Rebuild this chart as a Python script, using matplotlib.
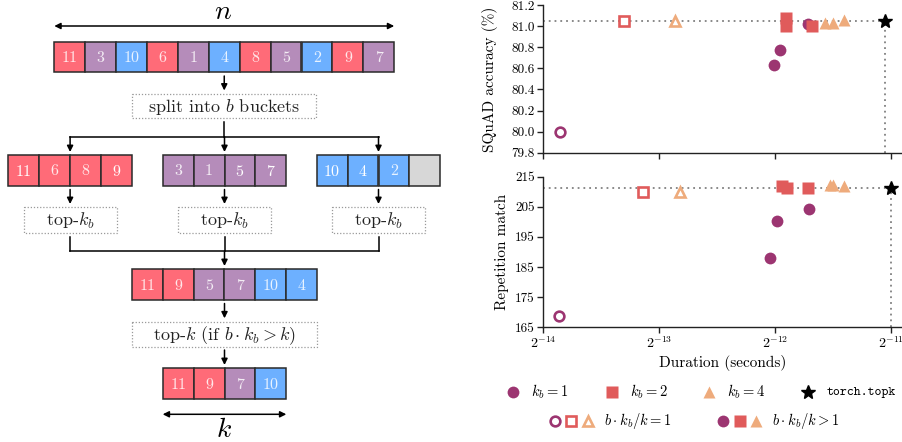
import numpy as np
import matplotlib
matplotlib.use("Agg")
import matplotlib.pyplot as plt
from matplotlib.patches import Rectangle, FancyArrowPatch

plt.rcParams['font.family'] = 'cmr10'
plt.rcParams['mathtext.fontset'] = 'cm'
plt.rcParams['axes.formatter.use_mathtext'] = True
plt.rcParams['axes.unicode_minus'] = False

# ---------------- data ----------------
# diagram values
input_values = [11, 3, 10, 6, 1, 4, 8, 5, 2, 9, 7]
input_bucket = [0, 1, 2, 0, 1, 2, 0, 1, 2, 0, 1]
bucket_values = [[11, 6, 8, 9], [3, 1, 5, 7], [10, 4, 2, None]]
bucket_selected = [[True, False, False, True], [False, False, True, True], [True, True, False, False]]
merged_values = [11, 9, 5, 7, 10, 4]
merged_bucket = [0, 0, 1, 1, 2, 2]
final_values = [11, 9, 7, 10]
final_bucket = [0, 0, 1, 2]

# SQuAD accuracy panel (x given as log2 of duration in seconds)
sq_kb1_open_x, sq_kb1_open_y = [-13.86], [80.00]
sq_kb1_x, sq_kb1_y = [-12.01, -11.955, -11.71], [80.63, 80.775, 81.02]
sq_kb2_open_x, sq_kb2_open_y = [-13.30], [81.05]
sq_kb2_x, sq_kb2_y = [-11.90, -11.90, -11.68], [81.075, 81.00, 81.00]
sq_kb4_open_x, sq_kb4_open_y = [-12.86], [81.05]
sq_kb4_x, sq_kb4_y = [-11.567, -11.50, -11.40], [81.034, 81.034, 81.056]
sq_topk_x, sq_topk_y = [-11.05], [81.05]

# Repetition match panel
rp_kb1_open_x, rp_kb1_open_y = [-13.867], [168.9]
rp_kb1_x, rp_kb1_y = [-12.042, -11.985, -11.703], [188.1, 200.4, 204.2]
rp_kb2_open_x, rp_kb2_open_y = [-13.142], [210.0]
rp_kb2_x, rp_kb2_y = [-11.936, -11.893, -11.712], [212.0, 211.4, 211.1]
rp_kb4_open_x, rp_kb4_open_y = [-12.82], [210.0]
rp_kb4_x, rp_kb4_y = [-11.524, -11.495, -11.40], [212.2, 212.2, 211.9]
rp_topk_x, rp_topk_y = [-11.0], [211.1]

x_ticks_log2 = [-14, -13, -12, -11]
sq_ticks = [79.8, 80.0, 80.2, 80.4, 80.6, 80.8, 81.0, 81.2]
rp_ticks = [165, 175, 185, 195, 205, 215]

legend_row1_labels = [r'$k_b = 1$', r'$k_b = 2$', r'$k_b = 4$', 'torch.topk']
legend_row2_labels = [r'$b \cdot k_b / k = 1$', r'$b \cdot k_b / k > 1$']

# ---------------- style ----------------
C_KB1 = '#9c3571'
C_KB2 = '#e05b5b'
C_KB4 = '#eeab7c'
CELL = ['#ff6b78', '#b58cba', '#6db0ff']
CELL_EMPTY = '#d7d7d7'

W, H = 902, 442
fig = plt.figure(figsize=(W / 100, H / 100), dpi=100)

# ---------------- diagram ----------------
ax = fig.add_axes([0, 0, 451 / W, 1])
ax.set_xlim(0, 451)
ax.set_ylim(442, 0)
ax.axis('off')

cw, ch = 30.9, 30.8


def row(x0, y0, values, buckets, bold=None):
    for i, v in enumerate(values):
        fc = CELL_EMPTY if v is None else CELL[buckets[i]]
        ax.add_patch(Rectangle((x0 + i * cw, y0), cw, ch, facecolor=fc,
                               edgecolor='#2a2a2a', lw=1.1))
        if v is None:
            continue
        if bold is not None and bold[i]:
            ax.text(x0 + (i + 0.5) * cw, y0 + ch / 2 + 1, r'$\mathbf{%d}$' % v,
                    ha='center', va='center', color='white', fontsize=11.5)
        else:
            ax.text(x0 + (i + 0.5) * cw, y0 + ch / 2 + 1, str(v),
                    ha='center', va='center', color='white', alpha=0.85,
                    fontsize=11.5)


def arrow(x, y0, y1):
    ax.add_patch(FancyArrowPatch((x, y0), (x, y1), arrowstyle='-|>',
                                 mutation_scale=9, color='black', lw=1.1,
                                 shrinkA=0, shrinkB=0))


def dbl(x0, x1, y):
    ax.add_patch(FancyArrowPatch((x0, y), (x1, y), arrowstyle='<|-|>',
                                 mutation_scale=9, color='black', lw=1.1,
                                 shrinkA=0, shrinkB=0))


def box(xc, yc, w, h, label):
    ax.add_patch(Rectangle((xc - w / 2, yc - h / 2), w, h, facecolor='white',
                           edgecolor='#9a9a9a', lw=0.9, ls=(0, (1, 1.5))))
    ax.text(xc, yc + 1, label, ha='center', va='center', fontsize=13,
            color='#222222')


# top row
top_x0, top_y0 = 54.3, 41.7
row(top_x0, top_y0, input_values, input_bucket)
cx = top_x0 + len(input_values) * cw / 2
dbl(top_x0, top_x0 + len(input_values) * cw, 26)
ax.text(cx - 1, 12, '$n$', ha='center', va='center', fontsize=20)
arrow(cx, 76, 90.5)
box(cx, 106.2, 184.3, 24.3, r'split into $b$ buckets')

bucket_x0 = [8.3, 162.7, 316.7]
bucket_y0 = 155
centers = [x0 + 2 * cw for x0 in bucket_x0]
ax.plot([cx, cx], [121.7, 136.7], color='black', lw=1.1)
ax.plot([centers[0], centers[-1]], [136.7, 136.7], color='black', lw=1.1)
for b, x0 in enumerate(bucket_x0):
    arrow(centers[b], 136.7, 152)
    row(x0, bucket_y0, bucket_values[b], [b] * 4, bucket_selected[b])
    arrow(centers[b], 189.5, 204)
    box(centers[b], 220.3, 93, 26, r'top-$k_b$')
    ax.plot([centers[b], centers[b]], [236.5, 251], color='black', lw=1.1)
ax.plot([centers[0], centers[-1]], [251, 251], color='black', lw=1.1)
arrow(centers[1], 251, 266)

merged_x0, merged_y0 = 131.7, 269.3
row(merged_x0, merged_y0, merged_values, merged_bucket)
arrow(centers[1], 303.5, 318.3)
box(centers[1], 334.2, 185, 25, r'top-$k$ (if $b \cdot k_b > k$)')
arrow(centers[1], 350, 365)
final_x0, final_y0 = 162.7, 368.3
row(final_x0, final_y0, final_values, final_bucket)
dbl(final_x0, final_x0 + len(final_values) * cw, 414.3)
ax.text(centers[1], 430, '$k$', ha='center', va='center', fontsize=20)

# ---------------- scatter panels ----------------
left = 543.3 / W
width = 1 - left
top_px = 5
ax1 = fig.add_axes([left, 1 - 152.7 / H, width, (152.7 - top_px) / H])
ax2 = fig.add_axes([left, 1 - 327.3 / H, width, (327.3 - 176.7) / H])

FS = 8.5
OS = 7
MEW = 1.9


def p2(v):
    return np.power(2.0, np.asarray(v, dtype=float))


def panel(a, d, ylim, yticks, fmt):
    (k1o, k1, k2o, k2, k4o, k4, st) = d
    a.plot(p2(st[0]), st[1], '*', color='black', ms=10, zorder=5, ls='none')
    # reference lines
    a.plot([2.0 ** -14, p2(st[0])[0]], [st[1][0]] * 2, ls=(0, (1, 2.2)),
           color='#808080', lw=1.3, zorder=1)
    a.plot([p2(st[0])[0]] * 2, [ylim[0], st[1][0]], ls=(0, (1, 2.2)),
           color='#808080', lw=1.3, zorder=1)
    a.plot(p2(k1o[0]), k1o[1], 'o', ms=OS, mfc='white', mec=C_KB1, mew=MEW, ls='none', zorder=3)
    a.plot(p2(k2o[0]), k2o[1], 's', ms=OS, mfc='white', mec=C_KB2, mew=MEW, ls='none', zorder=3)
    a.plot(p2(k4o[0]), k4o[1], '^', ms=OS, mfc='white', mec=C_KB4, mew=MEW, ls='none', zorder=3)
    a.plot(p2(k1[0]), k1[1], 'o', ms=FS, color=C_KB1, mec='none', ls='none', zorder=3)
    a.plot(p2(k2[0]), k2[1], 's', ms=FS, color=C_KB2, mec='none', ls='none', zorder=3)
    a.plot(p2(k4[0]), k4[1], '^', ms=FS, color=C_KB4, mec='none', ls='none', zorder=3)
    a.set_xscale('log', base=2)
    a.set_xlim(2.0 ** -14, 2.0 ** (-11 + (902 - 890.7) / 115.8))
    a.set_ylim(*ylim)
    a.set_xticks(p2(x_ticks_log2))
    a.minorticks_off()
    a.set_yticks(yticks)
    a.set_yticklabels([fmt % t for t in yticks])
    for s in ('top', 'right'):
        a.spines[s].set_visible(False)
    for s in ('left', 'bottom'):
        a.spines[s].set_linewidth(1.0)
        a.spines[s].set_color('#222222')
    a.tick_params(direction='out', length=4, width=1.0, labelsize=9.5,
                  color='#222222', pad=2)


panel(ax1, ((sq_kb1_open_x, sq_kb1_open_y), (sq_kb1_x, sq_kb1_y),
            (sq_kb2_open_x, sq_kb2_open_y), (sq_kb2_x, sq_kb2_y),
            (sq_kb4_open_x, sq_kb4_open_y), (sq_kb4_x, sq_kb4_y),
            (sq_topk_x, sq_topk_y)), (79.8, 81.2), sq_ticks, '%.1f')
ax1.set_xticklabels([])
ax1.set_ylabel('SQuAD accuracy (%)', fontsize=11)
ax1.yaxis.set_label_coords(-0.127, 0.5)

panel(ax2, ((rp_kb1_open_x, rp_kb1_open_y), (rp_kb1_x, rp_kb1_y),
            (rp_kb2_open_x, rp_kb2_open_y), (rp_kb2_x, rp_kb2_y),
            (rp_kb4_open_x, rp_kb4_open_y), (rp_kb4_x, rp_kb4_y),
            (rp_topk_x, rp_topk_y)), (165, 215), rp_ticks, '%d')
ax2.set_xticklabels([r'$2^{%d}$' % t for t in x_ticks_log2], fontsize=10)
ax2.set_ylabel('Repetition match', fontsize=11)
ax2.yaxis.set_label_coords(-0.097, 0.5)
ax2.set_xlabel('Duration (seconds)', fontsize=11, labelpad=3)

# ---------------- legend (drawn in its own pixel-coordinate axes) ----------------
lg = fig.add_axes([480 / W, 0, 422 / W, 70 / H])
lg.set_xlim(480, 902)
lg.set_ylim(442, 372)
lg.axis('off')
y1, y2 = 392, 421
row1_markers = [('o', C_KB1, FS), ('s', C_KB2, FS), ('^', C_KB4, FS), ('*', 'black', 10)]
row1_x = [513.3, 611.7, 709.3, 808.3]
for (m, c, s), x, lab in zip(row1_markers, row1_x, legend_row1_labels):
    lg.plot([x], [y1], m, color=c, ms=s, mec='none' if m != '*' else c, ls='none')
    t = lg.text(x + 18, y1, lab, ha='left', va='center', fontsize=10.5)
    if lab == 'torch.topk':
        t.set_family('cmtt10')
        t.set_fontsize(9.5)
open_x = [555, 571.5, 588]
filled_x = [723.3, 740, 756.5]
for (m, c, s), xo, xf in zip(row1_markers[:3], open_x, filled_x):
    lg.plot([xo], [y2], m, ms=OS, mfc='white', mec=c, mew=MEW, ls='none')
    lg.plot([xf], [y2], m, ms=FS, color=c, mec='none', ls='none')
lg.text(604, y2, legend_row2_labels[0], ha='left', va='center', fontsize=10.5)
lg.text(772, y2, legend_row2_labels[1], ha='left', va='center', fontsize=10.5)

fig.savefig('out.png', dpi=100)
